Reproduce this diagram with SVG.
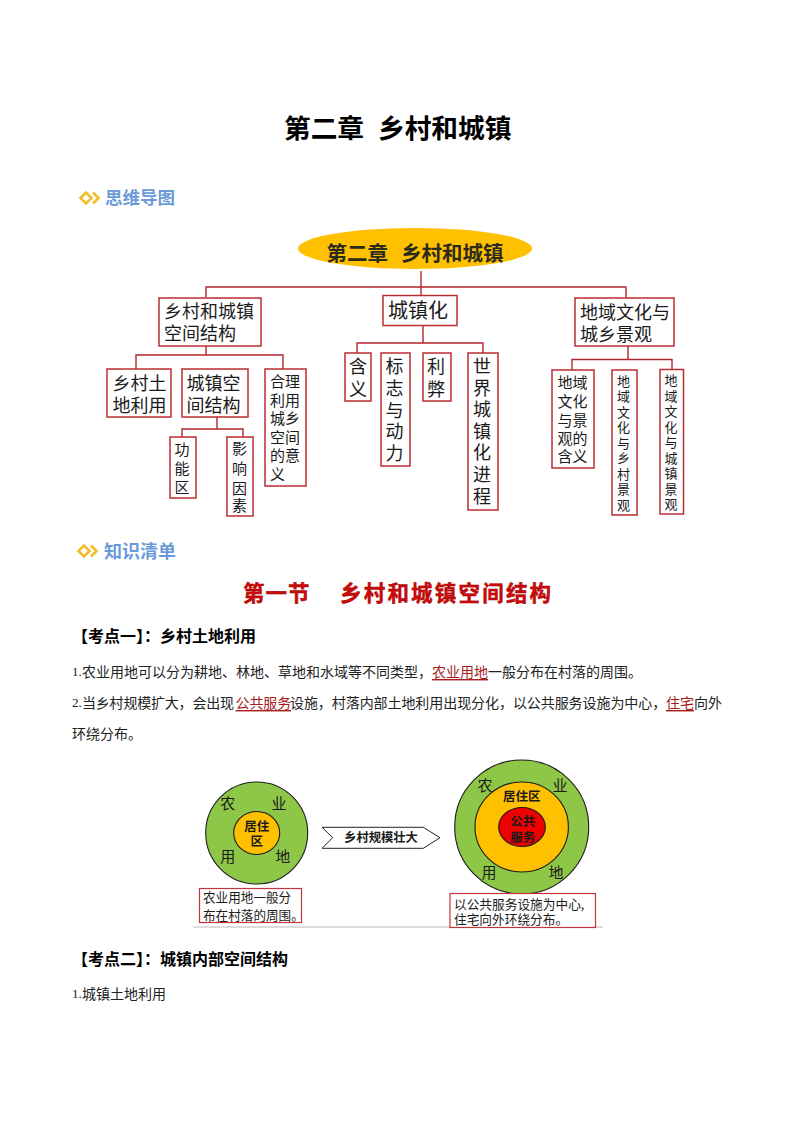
<svg xmlns="http://www.w3.org/2000/svg" width="794" height="1123" viewBox="0 0 794 1123">
<style>
text{font-family:"Noto Sans CJK SC","Liberation Sans",sans-serif;fill:#1a1a1a;dominant-baseline:central;transform:translateY(-.07em)}
.m{text-anchor:middle}
.b{font-weight:700}
.box{fill:#fff;stroke:#bd2c33;stroke-width:1.5}
.line{fill:none;stroke:#b3262d;stroke-width:1.4}
.s18{font-size:18px}.s20{font-size:20px}.s15{font-size:15px}.s13{font-size:13px}
.blue{font-size:17.5px;font-weight:700;fill:#6a9bd8}
.h{font-size:16px;font-weight:700;fill:#000}
.p{font-size:14px;fill:#222}
.n{font-family:"Liberation Serif",serif;font-size:13px}
.u{fill:#a51c1c;text-decoration:underline}
.dia{fill:none;stroke:#f2bd2a;stroke-width:2.6}
.c{stroke:#1c1c1c;stroke-width:1.1}
.sec{font-size:21.5px;font-weight:700;fill:#cc0a0a;stroke:#a00000;stroke-width:.4}
</style>
<rect width="794" height="1123" fill="#fff"/>

<g id="page-title"><text class="b" font-size="26.7" style="fill:#000" x="284" y="128">第二章<tspan x="378">乡村和城镇</tspan></text></g>

<g id="heading-mindmap">
<path class="dia" d="M86 192.500L91.500 198L86 203.500L80.500 198Z"/><path class="dia" d="M93 192.500L98.500 198L93 203.500"/>
<text class="blue" x="105" y="198">思维导图</text></g>

<g id="connectors">
<path class="line" d="M421 271V295"/>
<path class="line" d="M206 297V287H626V298"/>
<path class="line" d="M206 346V355M136 369V355H283V369"/>
<path class="line" d="M217 417V429M182 437V429H243V437"/>
<path class="line" d="M423 325V343M357 353V343H483V353"/>
<path class="line" d="M628 346V359.500M572 370V359.500H672V369"/>
</g>

<g id="root"><ellipse cx="415" cy="248.500" rx="117" ry="20.500" fill="#ffc000"/>
<text class="b" font-size="20.500" x="326.500" y="253" style="fill:#2b2b1c">第二章<tspan x="401">乡村和城镇</tspan></text></g>

<g id="n-spatial"><rect class="box" x="159" y="298" width="102" height="48"/><text class="s18"><tspan x="164" y="311.500">乡村和城镇</tspan><tspan x="164" y="333.500">空间结构</tspan></text></g>
<g id="n-urbanization"><rect class="box" x="383" y="295.500" width="74" height="30"/><text class="s20" x="388" y="311">城镇化</text></g>
<g id="n-culture"><rect class="box" x="575" y="298" width="99" height="48"/><text class="s18"><tspan x="580" y="312">地域文化与</tspan><tspan x="580" y="334">城乡景观</tspan></text></g>

<g id="n-landuse"><rect class="box" x="107" y="369" width="64" height="48"/><text class="s18"><tspan x="112.500" y="383">乡村土</tspan><tspan x="112.500" y="405">地利用</tspan></text></g>
<g id="n-urbanstruct"><rect class="box" x="182" y="369" width="66" height="48"/><text class="s18"><tspan x="186.500" y="383">城镇空</tspan><tspan x="186.500" y="405">间结构</tspan></text></g>
<g id="n-rational"><rect class="box" x="265" y="369" width="41" height="117"/>
<text class="s15"><tspan x="270" y="381.500">合理</tspan><tspan x="270" y="400">利用</tspan><tspan x="270" y="418.500">城乡</tspan><tspan x="270" y="437">空间</tspan><tspan x="270" y="455">的意</tspan><tspan x="270" y="474">义</tspan></text></g>
<g id="n-function"><rect class="box" x="170" y="437" width="26" height="61"/>
<text class="s15 m"><tspan x="182" y="449.500">功</tspan><tspan x="182" y="468.500">能</tspan><tspan x="182" y="487.500">区</tspan></text></g>
<g id="n-factors"><rect class="box" x="227" y="437" width="26" height="79"/>
<text class="s15 m"><tspan x="239.500" y="448">影</tspan><tspan x="239.500" y="468">响</tspan><tspan x="239.500" y="488">因</tspan><tspan x="239.500" y="505">素</tspan></text></g>

<g id="n-meaning"><rect class="box" x="345" y="353" width="26" height="48"/><text class="s18 m"><tspan x="358" y="366.500">含</tspan><tspan x="358" y="389">义</tspan></text></g>
<g id="n-signs"><rect class="box" x="381" y="353" width="29" height="113"/>
<text class="s18 m"><tspan x="394.500" y="366.500">标</tspan><tspan x="394.500" y="388.500">志</tspan><tspan x="394.500" y="410">与</tspan><tspan x="394.500" y="431.500">动</tspan><tspan x="394.500" y="453.500">力</tspan></text></g>
<g id="n-proscons"><rect class="box" x="423" y="353" width="28" height="48"/><text class="s18 m"><tspan x="436" y="366.500">利</tspan><tspan x="436" y="389">弊</tspan></text></g>
<g id="n-world"><rect class="box" x="468" y="353" width="30" height="157"/>
<text class="s18 m"><tspan x="482" y="366">世</tspan><tspan x="482" y="388">界</tspan><tspan x="482" y="409.500">城</tspan><tspan x="482" y="431">镇</tspan><tspan x="482" y="452.500">化</tspan><tspan x="482" y="474">进</tspan><tspan x="482" y="496">程</tspan></text></g>

<g id="n-cult-mean"><rect class="box" x="552" y="370" width="42" height="98"/>
<text class="s15"><tspan x="557.500" y="382.500">地域</tspan><tspan x="557.500" y="401">文化</tspan><tspan x="557.500" y="420">与景</tspan><tspan x="557.500" y="438.500">观的</tspan><tspan x="557.500" y="456.500">含义</tspan></text></g>
<g id="n-cult-rural"><rect class="box" x="612" y="370" width="25" height="145"/>
<text class="s13 m"><tspan x="623.500" y="380.500">地</tspan><tspan x="623.500" y="396">域</tspan><tspan x="623.500" y="411.500">文</tspan><tspan x="623.500" y="427">化</tspan><tspan x="623.500" y="442.500">与</tspan><tspan x="623.500" y="458">乡</tspan><tspan x="623.500" y="474">村</tspan><tspan x="623.500" y="489">景</tspan><tspan x="623.500" y="504.500">观</tspan></text></g>
<g id="n-cult-urban"><rect class="box" x="660" y="369.500" width="23.500" height="144.500"/>
<text class="s13 m"><tspan x="671" y="380">地</tspan><tspan x="671" y="395.500">域</tspan><tspan x="671" y="411">文</tspan><tspan x="671" y="426.500">化</tspan><tspan x="671" y="442">与</tspan><tspan x="671" y="457.500">城</tspan><tspan x="671" y="473">镇</tspan><tspan x="671" y="488.500">景</tspan><tspan x="671" y="504">观</tspan></text></g>

<g id="heading-list">
<path class="dia" d="M84 545.500L89.500 551L84 556.500L78.500 551Z"/><path class="dia" d="M91 545.500L96.500 551L91 556.500"/>
<text class="blue" x="104" y="551" style="font-size:18px">知识清单</text></g>

<g id="section-title"><text class="sec" x="243" y="593" letter-spacing="1">第一节</text>
<text class="sec" x="340" y="593" letter-spacing="2.200">乡村和城镇空间结构</text></g>

<g id="body">
<text class="h" x="72" y="636">【考点一】：乡村土地利用</text>
<text class="p" y="672"><tspan class="n" x="72">1.</tspan><tspan x="82">农业用地可以分为耕地、林地、草地和水域等不同类型，</tspan><tspan class="u" x="432">农业用地</tspan>一般分布在村落的周围。</text>
<text class="p" y="703"><tspan class="n" x="72">2.</tspan><tspan x="82" letter-spacing="-.2">当乡村规模扩大，会出现</tspan><tspan class="u" x="235.500" letter-spacing="-.1">公共服务</tspan><tspan x="290" letter-spacing="-.07">设施，村落内部土地利用出现分化，以公共服务设施为中心，</tspan><tspan class="u" x="666">住宅</tspan>向外</text>
<text class="p" x="72" y="734">环绕分布。</text>
<text class="h" x="72" y="959">【考点二】：城镇内部空间结构</text>
<text class="p" y="994"><tspan class="n" x="72">1.</tspan><tspan x="82">城镇土地利用</tspan></text>
</g>

<g id="rural-before">
<circle class="c" cx="256.700" cy="833" r="51" fill="#8ec648"/>
<ellipse class="c" cx="256.700" cy="833" rx="23" ry="21.500" fill="#ffc000"/>
<text class="m" font-size="15" x="227.700" y="804">农</text><text class="m" font-size="15" x="279" y="804">业</text>
<text class="m" font-size="15" x="227.700" y="857">用</text><text class="m" font-size="15" x="282.700" y="857">地</text>
<text class="m b" font-size="12.500"><tspan x="256.700" y="826">居住</tspan><tspan x="256.700" y="841">区</tspan></text>
</g>
<g id="rural-arrow">
<path d="M322 827.300H423.300L440 837.700L423.300 848.300H322L332.700 837.700Z" fill="#fff" stroke="#222" stroke-width="1"/>
<text class="m b" font-size="12.300" x="381" y="837.700">乡村规模壮大</text>
</g>
<g id="rural-after">
<circle class="c" cx="521.700" cy="827" r="67" fill="#8ec648"/>
<ellipse class="c" cx="521.700" cy="827" rx="46.700" ry="45" fill="#ffc000"/>
<ellipse class="c" cx="522" cy="827" rx="23.300" ry="19.500" fill="#ee0000"/>
<text class="m" font-size="15" x="485" y="786">农</text><text class="m" font-size="15" x="560" y="786">业</text>
<text class="m" font-size="15" x="489" y="873">用</text><text class="m" font-size="15" x="556" y="873">地</text>
<text class="m b" font-size="12.500" x="521.700" y="796.700">居住区</text>
<text class="m b" font-size="12.500"><tspan x="522.700" y="821">公共</tspan><tspan x="522.700" y="836.700">服务</tspan></text>
</g>
<g id="note-left"><rect x="199.500" y="888.500" width="102" height="34" fill="#fff" stroke="#c0363a" stroke-width="1.200"/>
<text font-size="12.600"><tspan x="203" y="897">农业用地一般分</tspan><tspan x="203" y="914.500">布在村落的周围。</tspan></text></g>
<path id="rule" d="M193 927H603" stroke="#b8b8b8" stroke-width="1" fill="none"/>
<g id="note-right"><rect x="450" y="893.500" width="145.500" height="34" fill="#fff" stroke="#c0363a" stroke-width="1.200"/>
<text font-size="12.700"><tspan x="454" y="904">以公共服务设施为中心,</tspan><tspan x="454" y="919">住宅向外环绕分布。</tspan></text></g>
</svg>
